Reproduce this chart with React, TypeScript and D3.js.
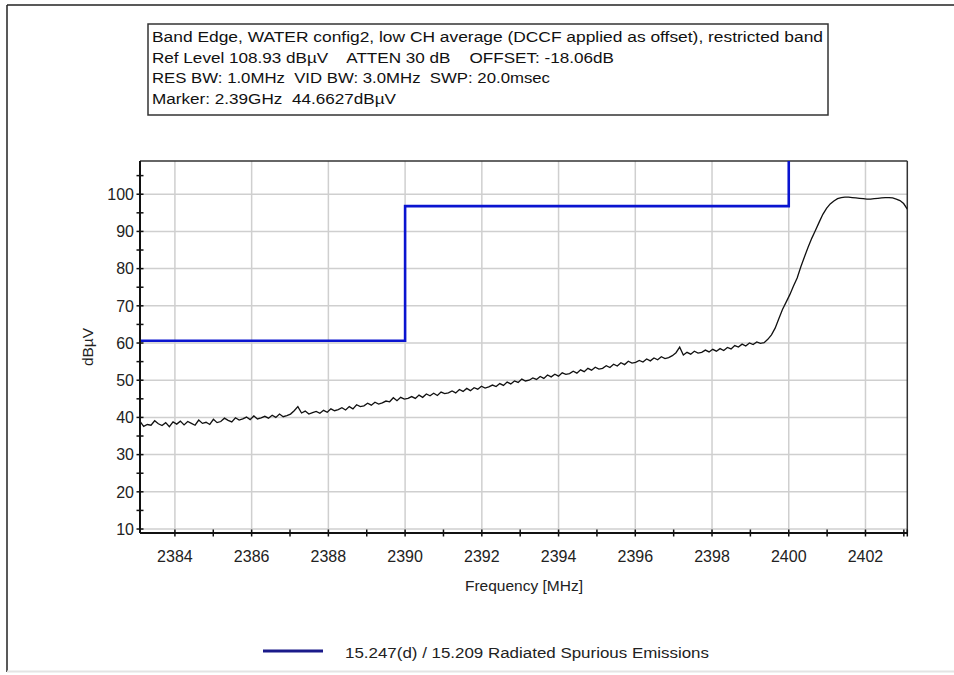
import React from "react";
import * as d3 from "d3";

const headerLines = [
  "Band Edge, WATER config2, low CH average (DCCF applied as offset), restricted band",
  "Ref Level 108.93 dBµV    ATTEN 30 dB    OFFSET: -18.06dB",
  "RES BW: 1.0MHz  VID BW: 3.0MHz  SWP: 20.0msec",
  "Marker: 2.39GHz  44.6627dBµV",
];
const headerWidths = [671, 462, 398, 244];

const xTicks = [2384, 2386, 2388, 2390, 2392, 2394, 2396, 2398, 2400, 2402];
const xMinorTicks = [2385, 2387, 2389, 2391, 2393, 2395, 2397, 2399, 2401, 2403];
const yTicks = [10, 20, 30, 40, 50, 60, 70, 80, 90, 100];
const yMinorTicks = [15, 25, 35, 45, 55, 65, 75, 85, 95, 105];

const freqStart = 2383.09;
const freqStop = 2403.09;
const refLevel = 108.93;
const bottomLevel = 8.93;

const limitFreq = [2383.09, 2390, 2390, 2400, 2400];
const limitLevel = [60.6, 60.6, 96.8, 96.8, 108.93];

const traceStep = 0.1;
const traceLevel = [
  38.9, 37.6, 38.1, 37.9, 39.1, 38.3, 37.8, 38.6, 37.5, 38.8,
  38.2, 39.0, 38.0, 38.9, 38.4, 37.9, 39.3, 38.4, 38.7, 38.1,
  39.5, 38.6, 38.9, 39.8, 39.2, 38.8, 39.9, 39.3, 39.6, 40.1,
  39.4, 40.4, 39.6, 39.9, 40.3, 39.8, 40.6, 40.0, 40.9, 40.2,
  40.5, 40.9, 41.8, 42.9, 41.2, 41.7, 40.9, 41.3, 41.6, 41.1,
  41.9, 41.4, 42.3, 41.8, 42.1, 42.6, 42.0, 42.9, 42.3, 43.4,
  42.9, 43.1, 43.8, 43.3, 44.1, 43.6, 43.9, 44.4, 44.2, 45.3,
  44.5, 45.4, 44.9, 45.1, 45.6, 45.1, 46.0, 45.4, 46.3, 45.8,
  46.5, 45.9, 46.8, 46.4, 46.6, 47.1, 46.6, 47.5, 47.0, 47.8,
  47.2, 48.0, 47.6, 48.4, 47.9, 48.2, 48.7, 48.3, 49.1, 48.6,
  49.5, 49.0, 49.8, 49.4, 50.3, 49.8, 50.0, 50.6, 50.2, 51.0,
  50.5, 51.4, 50.9, 51.6, 51.1, 52.0, 51.6, 51.8, 52.4, 51.9,
  52.8, 52.3, 53.2, 52.7, 53.5, 53.0, 53.2, 53.9, 53.4, 54.3,
  53.8, 54.7, 54.2, 55.1, 54.6, 54.8, 55.3, 54.9, 55.7, 55.2,
  56.0, 55.5, 56.3, 55.8, 56.1, 56.6, 57.4, 58.9, 56.8, 57.5,
  57.0, 57.8, 57.3, 57.5, 58.1, 57.6, 58.3, 57.8, 58.5, 58.0,
  58.8, 58.4, 59.3, 58.9, 59.7, 59.2, 60.0, 59.6, 60.3, 59.9,
  60.1, 61.0, 62.2, 64.0, 66.5, 69.0, 71.0, 73.0, 75.3, 77.5,
  80.5, 83.2, 85.8, 88.2, 90.3, 92.5, 94.6, 96.2, 97.4, 98.2,
  98.8, 99.1, 99.2, 99.2, 99.1, 99.0, 98.9, 98.8, 98.7, 98.7,
  98.8, 98.9, 99.0, 99.1, 99.1, 99.0, 98.7, 98.3, 97.5, 96.0,
];
// note: traceLevel has 200 points; the step is chosen so the last lands on freqStop

const legendLabel = "15.247(d) / 15.209 Radiated Spurious Emissions";

const FONT = "'Liberation Sans', Arial, sans-serif";

export default function App() {
  const left = 140, right = 907.3, top = 161, bottom = 533;
  const x = d3.scaleLinear().domain([freqStart, freqStop]).range([left, right]);
  const y = d3.scaleLinear().domain([bottomLevel, refLevel]).range([bottom, top]);

  const step = (freqStop - freqStart) / (traceLevel.length - 1);
  const traceData = traceLevel.map((v, i) => [freqStart + i * step, v] as [number, number]);
  const line = d3.line<[number, number]>().x((d) => x(d[0])).y((d) => y(d[1]));
  const limitData = limitFreq.map((f, i) => [f, limitLevel[i]] as [number, number]);

  return (
    <svg width={954} height={675} style={{ position: "absolute", left: 0, top: 0, background: "#fff" }} fontFamily={FONT}>
      <defs>
        <clipPath id="plotClip">
          <rect x={left} y={top} width={right - left} height={bottom - top} />
        </clipPath>
      </defs>
      {/* outer frame */}
      <line x1={7} y1={5} x2={954} y2={5} stroke="#222" strokeWidth={1.5} />
      <line x1={7} y1={5} x2={7} y2={672} stroke="#222" strokeWidth={1.5} />
      <line x1={7} y1={671.5} x2={954} y2={671.5} stroke="#e4e4e4" strokeWidth={2} />

      {/* header box */}
      <rect x={148} y={24} width={680} height={91} fill="#fff" stroke="#333" strokeWidth={1.5} />
      {headerLines.map((t, i) => (
        <text key={i} x={152} y={42 + i * 20.7} fontSize={15.5} fill="#111" style={{ whiteSpace: "pre" }} textLength={headerWidths[i]} lengthAdjust="spacingAndGlyphs">
          {t}
        </text>
      ))}

      {/* grid */}
      {xTicks.map((t) => (
        <line key={"gx" + t} x1={x(t)} x2={x(t)} y1={top} y2={bottom} stroke="#cfcfcf" strokeWidth={1.5} />
      ))}
      {yTicks.map((t) => (
        <line key={"gy" + t} x1={left} x2={right} y1={y(t)} y2={y(t)} stroke="#cfcfcf" strokeWidth={1.5} />
      ))}

      {/* frame top/right */}
      <line x1={left} x2={right} y1={top} y2={top} stroke="#333" strokeWidth={1.5} />
      <line x1={right} x2={right} y1={top} y2={bottom} stroke="#333" strokeWidth={1.5} />

      {/* traces */}
      <g clipPath="url(#plotClip)">
        <path d={line(limitData) || ""} fill="none" stroke="#0a14d0" strokeWidth={2.6} />
        <path d={line(traceData) || ""} fill="none" stroke="#111" strokeWidth={1.3} />
      </g>

      {/* axes */}
      <line x1={left} x2={left} y1={top} y2={bottom} stroke="#111" strokeWidth={2} />
      <line x1={left} x2={right} y1={bottom} y2={bottom} stroke="#111" strokeWidth={2} />
      {[...yTicks, ...yMinorTicks].map((t) => (
        <line key={"ty" + t} x1={left - 3.5} x2={left + 3.5} y1={y(t)} y2={y(t)} stroke="#111" strokeWidth={1.5} />
      ))}
      {[...xTicks, ...xMinorTicks].map((t) => (
        <line key={"tx" + t} x1={x(t)} x2={x(t)} y1={bottom - 3.5} y2={bottom + 3.5} stroke="#111" strokeWidth={1.5} />
      ))}
      <line x1={right} x2={right} y1={bottom - 3.5} y2={bottom + 3.5} stroke="#111" strokeWidth={1.5} />

      {yTicks.map((t) => (
        <text key={"ly" + t} x={left - 6} y={y(t)} dy="0.36em" textAnchor="end" fontSize={16} fill="#222">
          {t}
        </text>
      ))}
      {xTicks.map((t) => (
        <text key={"lx" + t} x={x(t)} y={562} textAnchor="middle" fontSize={16} fill="#222">
          {t}
        </text>
      ))}

      <text x={524} y={591} textAnchor="middle" fontSize={15.5} fill="#222">Frequency [MHz]</text>
      <text transform={`translate(93,347) rotate(-90)`} textAnchor="middle" fontSize={15.5} fill="#222">dBµV</text>

      {/* legend */}
      <line x1={263} x2={323} y1={651} y2={651} stroke="#1a1a8a" strokeWidth={3} />
      <text x={345} y={658} fontSize={15.5} fill="#222" textLength={364} lengthAdjust="spacingAndGlyphs">{legendLabel}</text>
    </svg>
  );
}
